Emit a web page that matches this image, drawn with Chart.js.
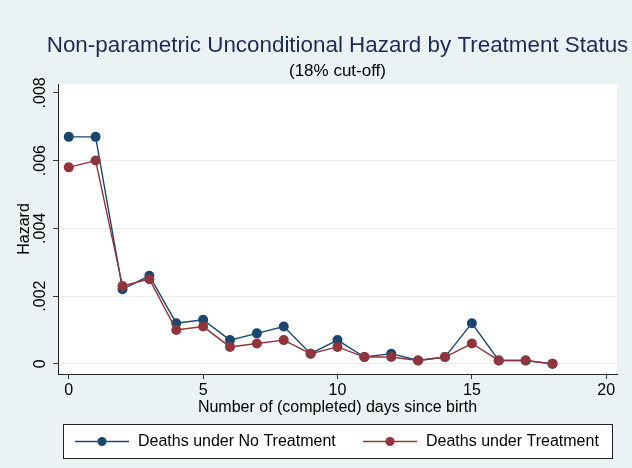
<!DOCTYPE html>
<html>
<head>
<meta charset="utf-8">
<script src="https://cdn.jsdelivr.net/npm/chart.js@4.4.1/dist/chart.umd.min.js"></script>
<style>
  html, body { margin: 0; padding: 0; background: #eaf2f3; }
  #wrap { width: 632px; height: 468px; position: relative; }
</style>
</head>
<body>
<div id="wrap"><canvas id="hazardChart" width="632" height="468"></canvas></div>
<script>
// days since birth
const days = [0, 1, 2, 3, 4, 5, 6, 7, 8, 9, 10, 11, 12, 13, 14, 15, 16, 17, 18];

// hazard, no treatment / treatment
const hazardNoTreat = [.0067, .0067, .0022, .0026, .0012, .0013, .0007, .0009, .0011, .0003,
    .0007, .0002, .0003, .0001, .0002, .0012, .0001, .0001, 0];
const hazardTreat = [.0058, .0060, .0023, .0025, .0010, .0011, .0005, .0006, .0007, .0003,
    .0005, .0002, .0002, .0001, .0002, .0006, .0001, .0001, 0];

const xTicks = [0, 5, 10, 15, 20];
const yTicks = [0, .002, .004, .006, .008];
const yTickLabels = ["0", ".002", ".004", ".006", ".008"];

const seriesNames = ["Deaths under No Treatment", "Deaths under Treatment"];
const blue = "#1a476f";
const red = "#90353b";
const FONT = "'Liberation Sans', Arial, Helvetica, sans-serif";

function toPoints(ys) {
    return days.map(function (d, i) { return { x: d, y: ys[i] }; });
}

// title, rotated y labels, axis titles and boxed legend
const decor = {
    id: 'decor',
    beforeDraw: function (chart) {
        const c = chart.ctx;
        c.save();
        c.fillStyle = '#eaf2f3';
        c.fillRect(0, 0, chart.width, chart.height);
        const a = chart.chartArea;
        c.fillStyle = '#ffffff';
        c.fillRect(a.left, a.top, a.right - a.left, a.bottom - a.top);
        c.restore();
    },
    afterDraw: function (chart) {
        const c = chart.ctx;
        const a = chart.chartArea;
        const cx = (a.left + a.right) / 2;
        const ys = chart.scales.y;
        c.save();
        c.textAlign = 'center';
        c.textBaseline = 'middle';

        c.fillStyle = '#1c2b55';
        c.font = '22.4px ' + FONT;
        c.fillText('Non-parametric Unconditional Hazard by Treatment Status', cx, 46);
        c.fillStyle = '#000';
        c.font = '17px ' + FONT;
        c.fillText('(18% cut-off)', cx, 71);

        c.font = '16px ' + FONT;
        c.fillText('Number of (completed) days since birth', cx, 408);

        // y tick labels, rotated like the original
        yTicks.forEach(function (v, i) {
            c.save();
            c.translate(41, ys.getPixelForValue(v));
            c.rotate(-Math.PI / 2);
            c.fillText(yTickLabels[i], 0, 0);
            c.restore();
        });
        c.save();
        c.translate(25, (a.top + a.bottom) / 2);
        c.rotate(-Math.PI / 2);
        c.fillText('Hazard', 0, 0);
        c.restore();

        // legend box
        c.fillStyle = '#fff';
        c.fillRect(63.5, 424.5, 549, 34);
        c.strokeStyle = '#222';
        c.lineWidth = 1;
        c.strokeRect(63.5, 424.5, 549, 34);
        const items = [
            { x: 75, color: blue, text: seriesNames[0] },
            { x: 363, color: red, text: seriesNames[1] }
        ];
        c.textAlign = 'left';
        items.forEach(function (it) {
            c.strokeStyle = it.color;
            c.lineWidth = 1.3;
            c.beginPath();
            c.moveTo(it.x, 441.5);
            c.lineTo(it.x + 54, 441.5);
            c.stroke();
            c.fillStyle = it.color;
            c.beginPath();
            c.arc(it.x + 27, 441.5, 4.5, 0, Math.PI * 2);
            c.fill();
            c.fillStyle = '#000';
            c.font = '16px ' + FONT;
            c.fillText(it.text, it.x + 63, 442);
        });
        c.restore();
    }
};

const ctx = document.getElementById('hazardChart');

new Chart(ctx, {
    type: 'line',
    data: {
        datasets: [{
            label: seriesNames[0],
            data: toPoints(hazardNoTreat),
            borderColor: blue,
            backgroundColor: blue,
            borderWidth: 1.4,
            pointRadius: 5,
            pointBorderWidth: 0,
            pointHoverRadius: 5,
            tension: 0,
            order: 1
        }, {
            label: seriesNames[1],
            data: toPoints(hazardTreat),
            borderColor: red,
            backgroundColor: red,
            borderWidth: 1.4,
            pointRadius: 5,
            pointBorderWidth: 0,
            pointHoverRadius: 5,
            tension: 0,
            order: 0
        }]
    },
    options: {
        responsive: false,
        animation: false,
        events: [],
        layout: { padding: { top: 84, left: 0, right: 15, bottom: 49 } },
        plugins: {
            legend: { display: false },
            tooltip: { enabled: false }
        },
        scales: {
            x: {
                type: 'linear',
                min: -0.4,
                max: 20.4,
                afterBuildTicks: function (scale) {
                    scale.ticks = xTicks.map(function (v) { return { value: v }; });
                },
                afterFit: function (scale) { scale.height = 45; },
                grid: {
                    drawOnChartArea: false,
                    tickLength: 5,
                    tickColor: '#333'
                },
                border: { color: '#222', width: 1 },
                ticks: {
                    color: '#000',
                    padding: 2,
                    maxRotation: 0,
                    font: { family: FONT, size: 16 }
                }
            },
            y: {
                type: 'linear',
                min: -0.0003,
                max: 0.00826,
                afterBuildTicks: function (scale) {
                    scale.ticks = yTicks.map(function (v) { return { value: v }; });
                },
                afterFit: function (scale) { scale.width = 58; },
                grid: {
                    color: function (c) {
                        return c.tick && c.tick.value >= 0.008 ? 'rgba(0,0,0,0)' : '#ebebeb';
                    },
                    tickLength: 5,
                    tickColor: '#333'
                },
                border: { color: '#222', width: 1 },
                ticks: { display: false }
            }
        }
    },
    plugins: [decor]
});
</script>
</body>
</html>
